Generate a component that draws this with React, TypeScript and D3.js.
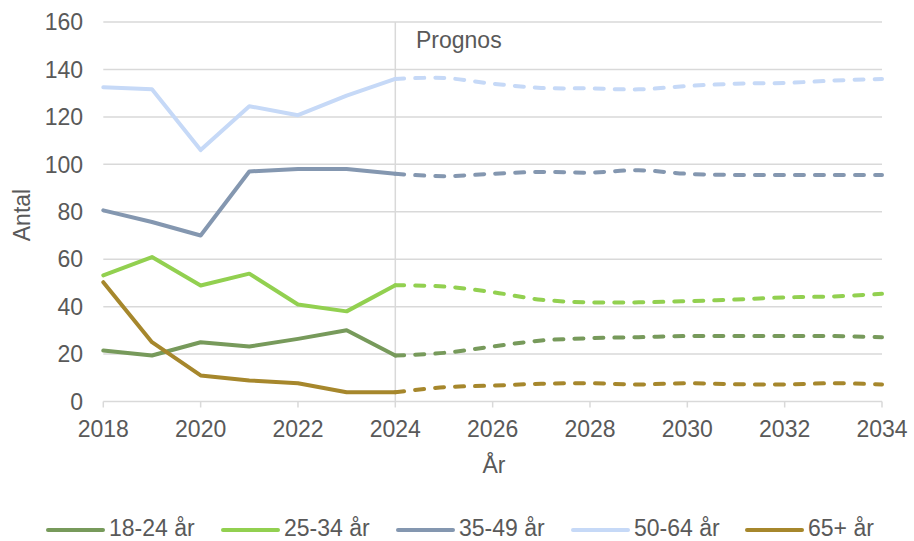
import React from 'react';
import * as d3 from 'd3';

const historyYears = [2018, 2019, 2020, 2021, 2022, 2023, 2024];
const forecastYears = [2024, 2025, 2026, 2027, 2028, 2029, 2030, 2031, 2032, 2033, 2034];

const seriesNames = ['18-24 år', '25-34 år', '35-49 år', '50-64 år', '65+ år'];
const seriesColors = ['#779A5B', '#92D050', '#8497B0', '#C6D9F7', '#A6872C'];

const history18 = [21.5, 19.4, 25, 23.2, 26.4, 30, 19.4];
const forecast18 = [19.4, 20.5, 23.2, 25.7, 26.7, 27.1, 27.6, 27.6, 27.6, 27.6, 27.1];
const history25 = [53.2, 60.9, 48.9, 53.9, 40.9, 38, 49];
const forecast25 = [49, 48.5, 46.1, 42.9, 41.8, 41.8, 42.3, 43, 43.9, 44.3, 45.4];
const history35 = [80.6, 75.7, 70, 97, 98, 98, 96];
const forecast35 = [96, 95, 96, 96.8, 96.5, 97.5, 96, 95.5, 95.5, 95.5, 95.5];
const history50 = [132.5, 131.6, 106, 124.5, 120.7, 129, 136];
const forecast50 = [136, 136.4, 134, 132.2, 132, 131.6, 133, 134, 134.3, 135.3, 136];
const history65 = [50.3, 25, 11, 8.9, 7.7, 3.9, 3.9];
const forecast65 = [3.9, 6, 6.7, 7.5, 7.7, 7.2, 7.7, 7.3, 7.2, 7.7, 7.2];

const yTicks = [0, 20, 40, 60, 80, 100, 120, 140, 160];
const xTicks = [2018, 2020, 2022, 2024, 2026, 2028, 2030, 2032, 2034];

const historyValues = [history18, history25, history35, history50, history65];
const forecastValues = [forecast18, forecast25, forecast35, forecast50, forecast65];

const WIDTH = 914;
const HEIGHT = 541;
const FONT = '"Liberation Sans", Arial, sans-serif';
const TEXT = '#595959';
const GRID = '#d9d9d9';

const App: React.FC = () => {
  const x = d3.scaleLinear().domain([2018, 2034]).range([103.3, 882]);
  const y = d3.scaleLinear().domain([0, 160]).range([401.5, 22]);

  const straight = d3.line<[number, number]>()
    .x(d => x(d[0]))
    .y(d => y(d[1]));

  const smooth = d3.line<[number, number]>()
    .x(d => x(d[0]))
    .y(d => y(d[1]))
    .curve(d3.curveCatmullRom.alpha(0.5));

  // legend: each item = line sample + label
  const legendX = [48, 223, 398, 573, 747];

  return (
    <div style={{ position: 'absolute', left: 0, top: 0 }}>
      <svg width={WIDTH} height={HEIGHT} style={{ display: 'block', background: '#fff' }} fontFamily={FONT}>
        {/* gridlines */}
        {yTicks.filter(t => t > 0).map(t => (
          <line key={t} x1={x(2018)} x2={x(2034)} y1={y(t)} y2={y(t)} stroke={GRID} strokeWidth={1.5} />
        ))}
        {/* y labels */}
        {yTicks.map(t => (
          <text key={t} x={83} y={y(t) + 8.2} textAnchor="end" fontSize={23} fill={TEXT}>{t}</text>
        ))}
        {/* forecast divider */}
        <line x1={x(2024)} x2={x(2024)} y1={y(160)} y2={y(0)} stroke={GRID} strokeWidth={1.5} />
        <text x={416} y={48} fontSize={23} fill={TEXT}>Prognos</text>

        {/* x axis */}
        <line x1={x(2018)} x2={x(2034)} y1={y(0)} y2={y(0)} stroke={GRID} strokeWidth={1.5} />
        {xTicks.map(t => (
          <g key={t}>
            <line x1={x(t)} x2={x(t)} y1={y(0)} y2={y(0) + 6} stroke={GRID} strokeWidth={1.5} />
            <text x={x(t)} y={437} textAnchor="middle" fontSize={23} fill={TEXT}>{t}</text>
          </g>
        ))}
        <text x={494} y={473} textAnchor="middle" fontSize={23} fill={TEXT}>År</text>
        <text transform="translate(30,215) rotate(-90)" textAnchor="middle" fontSize={23} fill={TEXT}>Antal</text>

        {/* series */}
        {seriesNames.map((name, i) => {
          const hist = historyYears.map((yr, j) => [yr, historyValues[i][j]] as [number, number]);
          const fc = forecastYears.map((yr, j) => [yr, forecastValues[i][j]] as [number, number]);
          return (
            <g key={name}>
              <path d={straight(hist) || ''} fill="none" stroke={seriesColors[i]} strokeWidth={4} strokeLinejoin="round" strokeLinecap="round" />
              <path d={smooth(fc) || ''} fill="none" stroke={seriesColors[i]} strokeWidth={4} strokeLinecap="round" strokeDasharray="9,11" />
            </g>
          );
        })}

        {/* legend */}
        {seriesNames.map((name, i) => (
          <g key={name} transform={`translate(${legendX[i]},530)`}>
            <line x1={0} x2={55} y1={0} y2={0} stroke={seriesColors[i]} strokeWidth={4} strokeLinecap="round" />
            <text x={61} y={6} fontSize={23} fill={TEXT}>{name}</text>
          </g>
        ))}
      </svg>
    </div>
  );
};

export default App;
